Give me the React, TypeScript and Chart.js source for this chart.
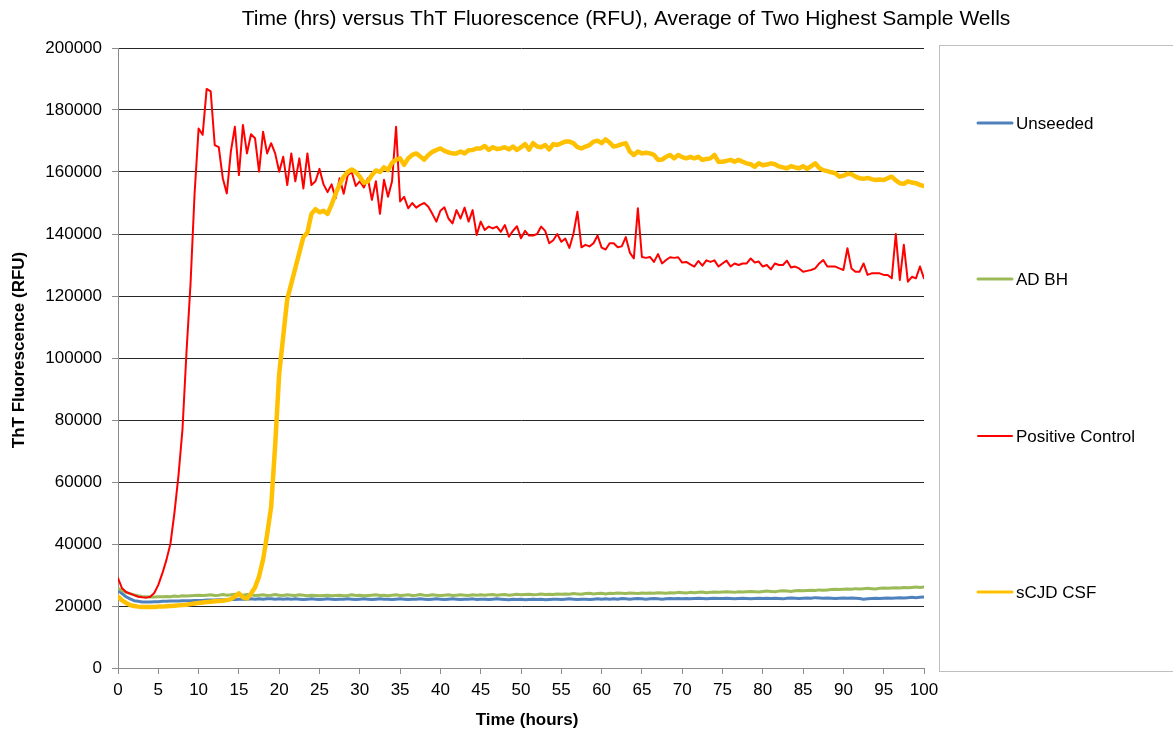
import { useEffect, useRef } from "react";
import { Chart, registerables } from "chart.js";

Chart.register(...registerables);

const TITLE = "Time (hrs) versus ThT Fluorescence (RFU), Average of Two Highest Sample Wells";
const X_TITLE = "Time (hours)";
const Y_TITLE = "ThT Fluorescence (RFU)";

const SERIES_NAMES = ["Unseeded", "AD BH", "Positive Control", "sCJD CSF"];
const SERIES_COLORS = ["#4F81BD", "#9BBB59", "#FF0000", "#FFC000"];

// sampling times (hours)
const TIMES = [
  0,
  0.5, 1, 1.5, 2, 2.5, 3, 3.5, 4, 4.5, 5, 5.5, 6, 6.5, 7, 7.5, 8, 8.5, 9, 9.5, 10,
  10.5, 11, 11.5, 12, 12.5, 13, 13.5, 14, 14.5, 15, 15.5, 16, 16.5, 17, 17.5, 18, 18.5, 19, 19.5, 20,
  20.5, 21, 21.5, 22, 22.5, 23, 23.5, 24, 24.5, 25, 25.5, 26, 26.5, 27, 27.5, 28, 28.5, 29, 29.5, 30,
  30.5, 31, 31.5, 32, 32.5, 33, 33.5, 34, 34.5, 35, 35.5, 36, 36.5, 37, 37.5, 38, 38.5, 39, 39.5, 40,
  40.5, 41, 41.5, 42, 42.5, 43, 43.5, 44, 44.5, 45, 45.5, 46, 46.5, 47, 47.5, 48, 48.5, 49, 49.5, 50,
  50.5, 51, 51.5, 52, 52.5, 53, 53.5, 54, 54.5, 55, 55.5, 56, 56.5, 57, 57.5, 58, 58.5, 59, 59.5, 60,
  60.5, 61, 61.5, 62, 62.5, 63, 63.5, 64, 64.5, 65, 65.5, 66, 66.5, 67, 67.5, 68, 68.5, 69, 69.5, 70,
  70.5, 71, 71.5, 72, 72.5, 73, 73.5, 74, 74.5, 75, 75.5, 76, 76.5, 77, 77.5, 78, 78.5, 79, 79.5, 80,
  80.5, 81, 81.5, 82, 82.5, 83, 83.5, 84, 84.5, 85, 85.5, 86, 86.5, 87, 87.5, 88, 88.5, 89, 89.5, 90,
  90.5, 91, 91.5, 92, 92.5, 93, 93.5, 94, 94.5, 95, 95.5, 96, 96.5, 97, 97.5, 98, 98.5, 99, 99.5, 100,
];

const UNSEEDED = [
  25200,
  24000, 23000, 22300, 21700, 21500, 21300, 21300, 21300, 21400, 21400, 21500, 21500, 21600, 21600, 21600, 21700, 21700, 21700, 21800, 21800,
  21800, 21900, 21900, 21900, 22000, 22000, 22000, 22100, 22100, 22200, 22200, 22200, 22300, 22200, 22300, 22200, 22300, 22300, 22200, 22300,
  22200, 22300, 22200, 22300, 22200, 22100, 22200, 22300, 22200, 22100, 22200, 22300, 22200, 22100, 22200, 22200, 22300, 22200, 22100, 22200,
  22300, 22200, 22100, 22200, 22300, 22200, 22200, 22100, 22200, 22300, 22200, 22100, 22200, 22200, 22300, 22200, 22100, 22200, 22300, 22200,
  22100, 22200, 22300, 22200, 22100, 22200, 22200, 22300, 22100, 22200, 22200, 22100, 22200, 22300, 22200, 22100, 22000, 22200, 22100, 22200,
  22000, 22100, 22200, 22100, 22200, 22000, 22100, 22200, 22200, 22100, 22200, 22300, 22200, 22100, 22200, 22200, 22100, 22200, 22300, 22200,
  22300, 22200, 22300, 22200, 22400, 22300, 22200, 22300, 22400, 22300, 22200, 22300, 22400, 22300, 22200, 22300, 22400, 22300, 22400, 22300,
  22400, 22300, 22400, 22500, 22400, 22300, 22400, 22500, 22400, 22400, 22500, 22400, 22300, 22400, 22500, 22400, 22300, 22400, 22500, 22400,
  22500, 22400, 22500, 22400, 22300, 22500, 22600, 22500, 22400, 22500, 22600, 22500, 22700, 22600, 22500, 22600, 22500, 22400, 22500, 22600,
  22500, 22600, 22500, 22400, 22200, 22300, 22400, 22500, 22400, 22500, 22600, 22500, 22600, 22700, 22600, 22700, 22800, 22700, 22800, 22900,
];

const AD_BH = [
  25700,
  25000, 24400, 24000, 23600, 23300, 23100, 23000, 22900, 22900, 23000, 23000, 23100, 23000, 23200, 23100, 23300, 23200, 23300, 23400, 23500,
  23400, 23500, 23600, 23400, 23500, 23700, 23500, 23600, 23800, 23600, 23500, 23700, 23600, 23400, 23500, 23600, 23400, 23500, 23700, 23500,
  23400, 23600, 23500, 23400, 23600, 23500, 23300, 23500, 23400, 23300, 23400, 23500, 23300, 23400, 23500, 23300, 23400, 23600, 23400, 23500,
  23300, 23400, 23500, 23600, 23400, 23500, 23300, 23500, 23600, 23400, 23500, 23600, 23400, 23500, 23700, 23500, 23400, 23600, 23500, 23400,
  23500, 23600, 23400, 23500, 23600, 23500, 23400, 23600, 23500, 23600, 23500, 23600, 23700, 23500, 23600, 23700, 23500, 23600, 23800, 23600,
  23700, 23800, 23600, 23700, 23900, 23700, 23800, 23700, 23900, 23800, 23900, 23800, 24000, 23900, 23800, 24000, 24100, 23900, 24000, 24100,
  23900, 24100, 24000, 24200, 24100, 24000, 24200, 24100, 24000, 24200, 24100, 24200, 24100, 24300, 24200, 24100, 24300, 24200, 24400, 24300,
  24200, 24400, 24300, 24400, 24500, 24300, 24400, 24500, 24400, 24500, 24600, 24500, 24400, 24600, 24500, 24600, 24700, 24600, 24500, 24700,
  24800, 24700, 24600, 24800, 24900, 24800, 24700, 24900, 25000, 24900, 25000, 25100, 25000, 25200, 25100, 25200, 25300, 25400, 25300, 25400,
  25500, 25400, 25600, 25500, 25600, 25700, 25600, 25500, 25700, 25800, 25700, 25800, 25900, 25800, 26000, 25900, 26000, 26100, 26000, 26100,
];

const POSITIVE_CONTROL = [
  29000,
  25700, 24500, 24000, 23500, 23000, 22800, 22700, 23000, 24200, 26800, 30500, 34800, 40000, 50000, 62000, 77000, 102000, 124000, 153000, 174000,
  172000, 186800, 186000, 168700, 168000, 158000, 153100, 166600, 174600, 159000, 175200, 166000, 172200, 170900, 160100, 173000, 166000, 169300, 166000, 160100,
  164900, 155800, 166000, 157000, 164400, 154700, 166000, 155800, 157000, 161000, 156000, 153500, 156000, 151500, 158000, 153000, 159000, 160000, 155500, 157000,
  155000, 158000, 151000, 157000, 146500, 157500, 152000, 157000, 174600, 150500, 152000, 148300, 150000, 148500, 149400, 150000, 148800, 146500, 144000, 147500,
  148600, 145000, 143400, 147700, 145000, 148500, 144000, 147700, 139700, 144000, 141300, 142400, 141800, 142400, 140700, 142900, 139100, 141000, 142500, 138600,
  141000, 139500, 139500, 140000, 142400, 141000, 137000, 138000, 140000, 137500, 138500, 135500, 140000, 147200, 135700, 136500, 136000, 137000, 139500, 135600,
  135000, 137000, 137000, 135700, 136000, 139000, 134000, 132100, 148300, 132600, 132300, 132600, 131000, 133500, 130500, 131600, 132500, 132300, 132500, 130800,
  131000, 130200, 129500, 131300, 129800, 131500, 131000, 131500, 129500, 130500, 131400, 129500, 130500, 130000, 130500, 130500, 132100, 130800, 131100, 129500,
  130000, 128600, 130500, 130000, 130000, 131400, 129200, 129500, 128900, 127800, 128100, 128400, 128900, 130500, 131600, 129500, 129500, 129500, 128900, 128400,
  135400, 128900, 127800, 127800, 130500, 126800, 127300, 127300, 127300, 126800, 126800, 125700, 140000, 125200, 136500, 124600, 126200, 125700, 129500, 125700,
];

const SCJD_CSF = [
  23000,
  21800, 21000, 20300, 20000, 19800, 19700, 19700, 19700, 19700, 19800, 19800, 19900, 20000, 20100, 20200, 20300, 20400, 20600, 20800, 21000,
  21100, 21300, 21400, 21500, 21600, 21700, 21900, 22200, 23000, 24100, 22800, 22400, 24000, 26000, 29500, 35000, 43000, 52000, 72000, 95000,
  107000, 119000, 124000, 129000, 134000, 139000, 140500, 146500, 148000, 147000, 147500, 146500, 149500, 153000, 156000, 158500, 160000, 160800, 160000, 158500,
  156500, 157000, 159000, 160500, 160000, 161500, 160600, 163000, 164000, 164400, 162300, 164400, 165500, 166000, 165000, 164000, 165500, 166500, 167100, 167600,
  166800, 166300, 166000, 166000, 166600, 166000, 167000, 167100, 167600, 167600, 168400, 167100, 168000, 167400, 167600, 168000, 167300, 168200, 167100, 168000,
  169000, 167200, 169300, 168200, 168000, 168700, 167300, 169000, 168700, 169300, 169800, 169800, 169300, 168000, 167600, 168200, 168700, 169800, 170100, 169300,
  170500, 169500, 168200, 168500, 169000, 169300, 166600, 165500, 166600, 166000, 166200, 166000, 165500, 163900, 164000, 164900, 165500, 164400, 165500, 164800,
  164400, 164900, 164400, 164900, 163900, 164200, 164400, 165500, 163300, 163300, 163600, 163900, 163300, 163900, 163300, 162800, 162500, 161700, 162800, 162200,
  162400, 162800, 162500, 161800, 161500, 161200, 161900, 161500, 161200, 161900, 161000, 161900, 162800, 161300, 160600, 160300, 159900, 159600, 158500, 158800,
  159400, 159300, 158500, 158000, 157800, 158100, 157700, 157400, 157600, 157400, 158000, 158500, 157300, 156400, 156200, 157000, 156600, 156400, 155800, 155500,
];

const X_MIN = 0;
const X_MAX = 100;
const X_STEP = 5;
const Y_MIN = 0;
const Y_MAX = 200000;
const Y_STEP = 20000;

const FONT = '"Liberation Sans", Arial, Helvetica, sans-serif';

const SERIES_VALUES = [UNSEEDED, AD_BH, POSITIVE_CONTROL, SCJD_CSF];
const SERIES_WIDTHS = [3, 3, 2, 4.5];
const SERIES_ORDER = [3, 2, 1, 0];
const LEGEND_Y = [123, 279, 436, 592];

function toPoints(values: number[]) {
  const pts: { x: number; y: number }[] = [];
  for (let i = 0; i < TIMES.length && i < values.length; i++) {
    pts.push({ x: TIMES[i], y: values[i] });
  }
  return pts;
}

const decorPlugin = {
  id: "decor",
  afterDraw(chart: any) {
    const ctx: CanvasRenderingContext2D = chart.ctx;
    const ca = chart.chartArea;
    ctx.save();
    ctx.fillStyle = "#000";
    ctx.textBaseline = "middle";

    // title
    ctx.font = `21px ${FONT}`;
    ctx.textAlign = "center";
    ctx.fillText(TITLE, 626, 19);

    // x axis title
    ctx.font = `bold 17px ${FONT}`;
    ctx.fillText(X_TITLE, (ca.left + ca.right) / 2 + 6, 720);

    // y axis title
    ctx.save();
    ctx.translate(19, (ca.top + ca.bottom) / 2 - 8);
    ctx.rotate(-Math.PI / 2);
    ctx.font = `bold 17px ${FONT}`;
    ctx.fillText(Y_TITLE, 0, 0);
    ctx.restore();

    // legend box
    ctx.strokeStyle = "#BFBFBF";
    ctx.lineWidth = 1;
    ctx.strokeRect(939.5, 45.5, 260, 626);

    ctx.font = `17px ${FONT}`;
    ctx.textAlign = "left";
    const ds = chart.data.datasets;
    for (let i = 0; i < ds.length; i++) {
      const y = LEGEND_Y[i];
      ctx.strokeStyle = ds[i].borderColor;
      ctx.lineWidth = i === 2 ? 2 : 3;
      ctx.lineCap = "round";
      ctx.beginPath();
      ctx.moveTo(978, y);
      ctx.lineTo(1012, y);
      ctx.stroke();
      ctx.fillStyle = "#000";
      ctx.fillText(ds[i].label, 1016, y + 1);
    }
    ctx.restore();
  },
};

export default function App() {
  const canvasRef = useRef<HTMLCanvasElement | null>(null);

  useEffect(() => {
    document.body.style.margin = "0";
    const canvas = canvasRef.current;
    if (!canvas) return;
    const chart = new Chart(canvas, {
      type: "line",
      data: {
        datasets: SERIES_NAMES.map((name, i) => ({
          label: name,
          data: toPoints(SERIES_VALUES[i]),
          borderColor: SERIES_COLORS[i],
          backgroundColor: SERIES_COLORS[i],
          borderWidth: SERIES_WIDTHS[i],
          pointRadius: 0,
          pointHoverRadius: 0,
          tension: 0,
          fill: false,
          borderJoinStyle: "round" as const,
          borderCapStyle: "round" as const,
          order: SERIES_ORDER[i],
        })),
      },
      options: {
        animation: false,
        responsive: false,
        devicePixelRatio: 1,
        layout: { padding: { left: 0, top: 48, right: 249, bottom: 0 } },
        plugins: {
          legend: { display: false },
          title: { display: false },
          tooltip: { enabled: false },
        },
        scales: {
          x: {
            type: "linear",
            min: X_MIN,
            max: X_MAX,
            ticks: {
              stepSize: X_STEP,
              color: "#000",
              font: { family: FONT, size: 17 },
              padding: 6,
              maxRotation: 0,
              autoSkip: false,
            },
            grid: {
              drawOnChartArea: false,
              drawTicks: true,
              tickLength: 6,
              tickColor: "#8c8c8c",
            },
            border: { color: "#8c8c8c", width: 1 },
            afterFit: (scale: any) => {
              scale.height = 66;
            },
          },
          y: {
            type: "linear",
            min: Y_MIN,
            max: Y_MAX,
            ticks: {
              stepSize: Y_STEP,
              color: "#000",
              font: { family: FONT, size: 17 },
              padding: 10,
              callback: (v: any) => String(v),
            },
            grid: {
              color: "#262626",
              lineWidth: 1,
              drawTicks: true,
              tickLength: 6,
              tickColor: "#8c8c8c",
            },
            border: { color: "#8c8c8c", width: 1 },
            afterFit: (scale: any) => {
              scale.width = 118;
            },
          },
        },
      },
      plugins: [decorPlugin],
    });
    return () => chart.destroy();
  }, []);

  return (
    <div style={{ width: 1173, height: 734, background: "#fff" }}>
      <canvas ref={canvasRef} width={1173} height={734} style={{ display: "block" }} />
    </div>
  );
}
